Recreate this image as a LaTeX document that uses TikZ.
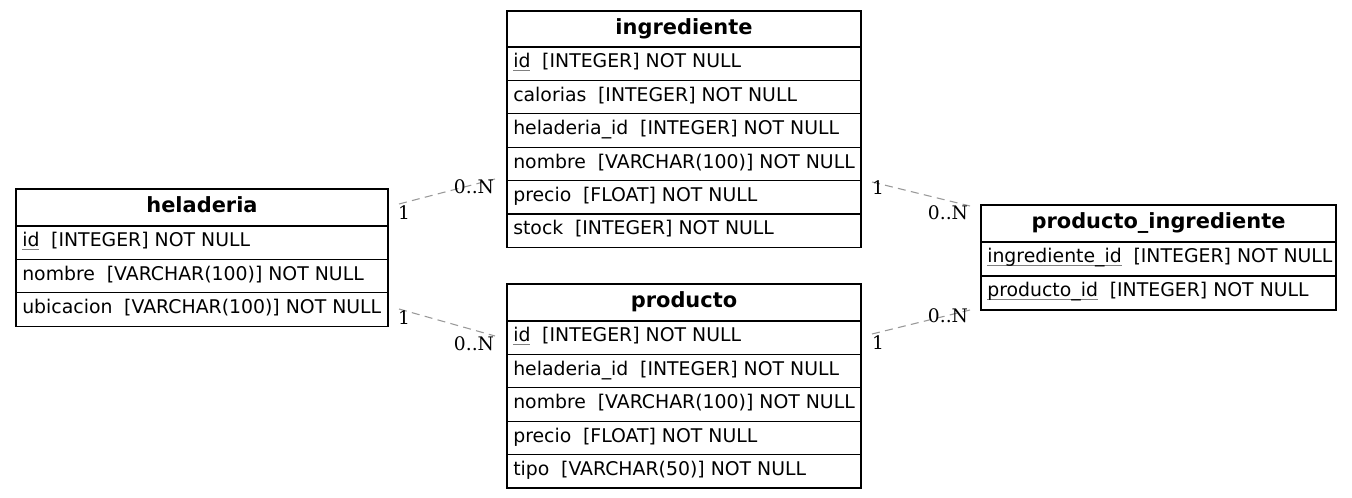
\documentclass[tikz,border=0pt]{standalone}
\usepackage{fontspec}
\setmainfont{DejaVu Sans}
\newfontfamily\lblfont{DejaVu Serif}
\newcommand\keyul[1]{\rlap{\color{gray}\underline{\smash{\phantom{#1}}}}#1}
\newcommand\sep{\hspace{8.8pt}}
\newcommand\erfld[5]{%
  \node[cell,minimum width={#3*0.75pt},minimum height={#4*0.75pt}] (#1) at (#2.south west) {};
  \node[ftext] (#1-t) at ([xshift=4.5pt,yshift=-15.75pt]#1.north west) {#5};}
\begin{document}
\begin{tikzpicture}[x=0.75pt,y=-0.75pt,
  cell/.style={draw=black,line width=0.9pt,inner sep=0pt,outer sep=0pt,anchor=north west},
  ttext/.style={inner sep=0pt,anchor=base,font=\fontsize{15.7}{18}\selectfont\bfseries},
  ftext/.style={inner sep=0pt,anchor=base west,font=\fontsize{14.15}{16}\selectfont},
  rel/.style={draw=gray!80,line width=0.8pt,dash pattern=on 6pt off 4pt},
  card/.style={inner sep=0pt,font=\lblfont\fontsize{14}{16}\selectfont}]
\useasboundingbox (0,0) rectangle (1352,498);

% heladeria
\node[cell,minimum width={372*0.75pt},minimum height={37*0.75pt}] (hel) at (16,189) {};
\node[ttext] (hel-t) at ([yshift=-18pt]hel.north) {heladeria};
\erfld{hel1}{hel}{372}{33.4}{\keyul{id}\sep[INTEGER] NOT NULL}
\erfld{hel2}{hel1}{372}{33.4}{nombre\sep[VARCHAR(100)] NOT NULL}
\erfld{hel3}{hel2}{372}{33.4}{ubicacion\sep[VARCHAR(100)] NOT NULL}

% ingrediente
\node[cell,minimum width={354*0.75pt},minimum height={36*0.75pt}] (ing) at (507,11) {};
\node[ttext] (ing-t) at ([yshift=-18pt]ing.north) {ingrediente};
\erfld{ing1}{ing}{354}{33.4}{\keyul{id}\sep[INTEGER] NOT NULL}
\erfld{ing2}{ing1}{354}{33.4}{calorias\sep[INTEGER] NOT NULL}
\erfld{ing3}{ing2}{354}{33.4}{heladeria\_id\sep[INTEGER] NOT NULL}
\erfld{ing4}{ing3}{354}{33.4}{nombre\sep[VARCHAR(100)] NOT NULL}
\erfld{ing5}{ing4}{354}{33.4}{precio\sep[FLOAT] NOT NULL}
\erfld{ing6}{ing5}{354}{33.4}{stock\sep[INTEGER] NOT NULL}

% producto
\node[cell,minimum width={354*0.75pt},minimum height={37*0.75pt}] (pro) at (507,284) {};
\node[ttext] (pro-t) at ([yshift=-18pt]pro.north) {producto};
\erfld{pro1}{pro}{354}{33.4}{\keyul{id}\sep[INTEGER] NOT NULL}
\erfld{pro2}{pro1}{354}{33.4}{heladeria\_id\sep[INTEGER] NOT NULL}
\erfld{pro3}{pro2}{354}{33.4}{nombre\sep[VARCHAR(100)] NOT NULL}
\erfld{pro4}{pro3}{354}{33.4}{precio\sep[FLOAT] NOT NULL}
\erfld{pro5}{pro4}{354}{33.4}{tipo\sep[VARCHAR(50)] NOT NULL}

% producto_ingrediente
\node[cell,minimum width={355*0.75pt},minimum height={37*0.75pt}] (pi) at (981,205) {};
\node[ttext] (pi-t) at ([yshift=-18pt]pi.north) {producto\_ingrediente};
\erfld{pi1}{pi}{355}{34}{\keyul{ingrediente\_id}\sep[INTEGER] NOT NULL}
\erfld{pi2}{pi1}{355}{34}{\keyul{producto\_id}\sep[INTEGER] NOT NULL}

% relationship end points
\coordinate (r1a) at (399,204); \coordinate (r1b) at (495,179);
\coordinate (r2a) at (399,309); \coordinate (r2b) at (495,336);
\coordinate (r3a) at (872,182); \coordinate (r3b) at (970,206);
\coordinate (r4a) at (872,334); \coordinate (r4b) at (970,310);
\draw[rel] (r1a) -- (r1b);
\draw[rel] (r2a) -- (r2b);
\draw[rel] (r3a) -- (r3b);
\draw[rel] (r4a) -- (r4b);

\node[card] (l1a) at (404,213) {1};
\node[card] (l1b) at (474,187) {0..N};
\node[card] (l2a) at (404,318) {1};
\node[card] (l2b) at (474,344) {0..N};
\node[card] (l3a) at (878,188) {1};
\node[card] (l3b) at (948,213) {0..N};
\node[card] (l4a) at (878,343) {1};
\node[card] (l4b) at (948,316) {0..N};
\end{tikzpicture}
\end{document}
